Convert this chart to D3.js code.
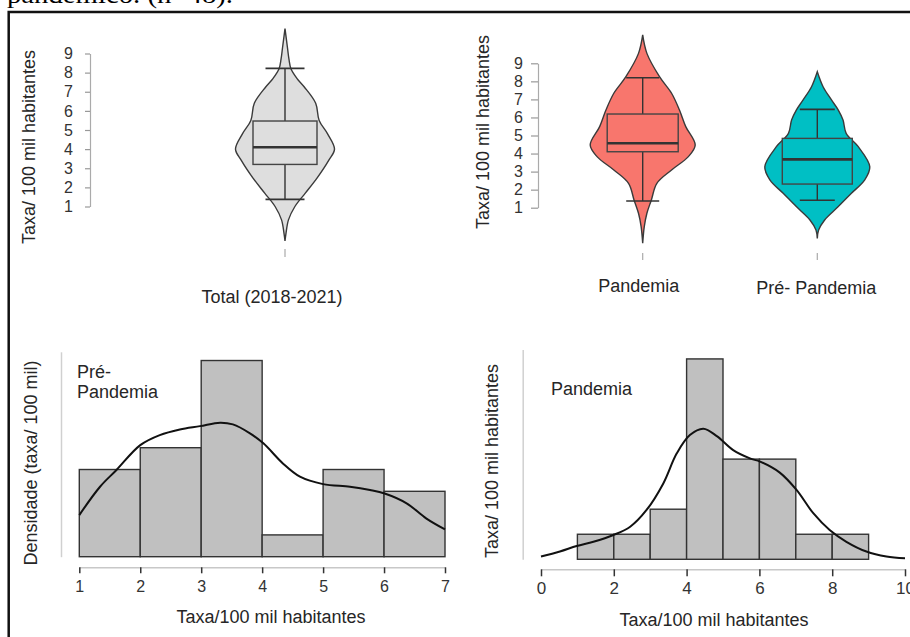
<!DOCTYPE html>
<html><head><meta charset="utf-8">
<script src="https://cdn.jsdelivr.net/npm/d3@7"></script>
<style>
body{margin:0;background:#fff;}
svg{display:block;font-family:"Liberation Sans",Arial,sans-serif;}
</style></head><body>
<svg id="c" width="910" height="637"></svg>
<script>
// ---------- DATA ----------
const captionText = "pandêmico. (n=48).";
const yTickValues = [1,2,3,4,5,6,7,8,9];

// Violin categories
const totalCategory = ["Total (2018-2021)"];
const periodCategories = ["Pandemia", "Pré- Pandemia"];

// Box statistics [lowerWhisker, q1, median, q3, upperWhisker]
const totalBox = [1.37, 3.2, 4.1, 5.47, 8.22];
const pandemiaBox = [1.37, 4.1, 4.57, 6.19, 8.2];
const prePandemiaBox = [1.41, 2.31, 3.68, 4.84, 6.45];

// Violin density profiles (value, relative density)
const totalViolinV = [10.3, 9.3, 8.7, 8.2, 7.7, 7.25, 6.4, 5.5, 4.8, 4.0, 3.4, 2.5, 1.7, 1.0, 0.3, -0.4, -0.8];
const totalViolinD = [0, 0.05, 0.08, 0.12, 0.24, 0.39, 0.62, 0.69, 0.86, 1.0, 0.88, 0.65, 0.41, 0.2, 0.07, 0.02, 0];
const pandemiaViolinV = [10.57, 9.55, 8.26, 7.34, 6.41, 5.49, 4.47, 3.83, 3.09, 2.35, 1.43, 0.69, -0.05, -0.97];
const pandemiaViolinD = [0, 0.08, 0.32, 0.55, 0.70, 0.82, 1.0, 0.87, 0.55, 0.27, 0.165, 0.08, 0.03, 0];
const preViolinV = [8.53, 7.7, 6.97, 6.41, 5.86, 5.12, 4.38, 3.27, 2.53, 1.8, 1.06, 0.32, -0.24, -0.70];
const preViolinD = [0, 0.11, 0.27, 0.40, 0.49, 0.55, 0.78, 1.0, 0.90, 0.65, 0.40, 0.14, 0.025, 0];

// Histograms (bin edges and counts)
const preEdges = [1,2,3,4,5,6,7];
const preCounts = [4,5,9,1,4,3];
const preTicks = [1,2,3,4,5,6,7];
const preCurveX = [1.0,1.34,1.61,2.0,2.32,2.65,2.98,3.31,3.52,3.8,4.02,4.34,4.62,5.0,5.44,5.77,6.01,6.37,6.69,7.0];
const preCurveY = [1.91,3.21,3.98,5.12,5.58,5.84,5.99,6.15,6.07,5.66,5.2,4.28,3.67,3.33,3.21,3.06,2.9,2.45,1.76,1.25];

const pandEdges = [1,2,3,4,5,6,7,8,9];
const pandCounts = [1,1,2,8,4,4,1,1];
const pandTicks = [0,2,4,6,8,10];
const pandCurveX = [0,0.52,0.98,1.44,1.99,2.45,2.9,3.36,3.73,4.09,4.46,4.83,5.28,5.74,6.02,6.56,7.02,7.48,7.93,8.39,8.94,9.49,10];
const pandCurveY = [0.11,0.31,0.53,0.70,0.97,1.3,1.97,3.03,4.23,4.96,5.21,4.92,4.36,4.03,3.9,3.46,2.77,1.84,1.17,0.70,0.31,0.11,0.04];

// ---------- DRAW ----------
const svg = d3.select("#c");
svg.append("rect").attr("width",910).attr("height",637).attr("fill","#fff");

svg.append("text").attr("x",7).attr("y",3)
  .attr("font-family","'Liberation Serif','Times New Roman',serif")
  .attr("font-size",26).attr("textLength",226).attr("lengthAdjust","spacingAndGlyphs")
  .attr("fill","#000").text(captionText);

svg.append("path").attr("d","M8.7,637 V12 H910").attr("fill","none")
  .attr("stroke","#111").attr("stroke-width",2.5);

const textCol = "#262626";

function rotLabel(x, y, txt){
  svg.append("text").attr("transform",`translate(${x},${y}) rotate(-90)`)
    .attr("text-anchor","middle").attr("dy","0.35em").attr("font-size",18)
    .attr("fill",textCol).text(txt);
}
function label(x, y, txt, anchor){
  svg.append("text").attr("x",x).attr("y",y).attr("text-anchor",anchor||"middle")
    .attr("dy","0.35em").attr("font-size",18).attr("fill",textCol).text(txt);
}

function violin(cx, yS, wS, vals, dens, box, fill, boxHW, capHW){
  const g = svg.append("g");
  const pts = vals.map((v,i)=>({v:v, d:dens[i]}));
  const area = d3.area().y(p=>yS(p.v)).x0(p=>cx - wS(p.d)).x1(p=>cx + wS(p.d))
    .curve(d3.curveCatmullRom.alpha(0.5));
  g.append("path").attr("d",area(pts)).attr("fill",fill).attr("stroke","#3a3a3a").attr("stroke-width",1.4);
  const [lo,q1,med,q3,hi] = box;
  const st = "#333";
  g.append("line").attr("x1",cx).attr("x2",cx).attr("y1",yS(hi)).attr("y2",yS(q3)).attr("stroke",st).attr("stroke-width",1.4);
  g.append("line").attr("x1",cx).attr("x2",cx).attr("y1",yS(q1)).attr("y2",yS(lo)).attr("stroke",st).attr("stroke-width",1.4);
  [hi,lo].forEach(v=>g.append("line").attr("x1",cx-capHW).attr("x2",cx+capHW).attr("y1",yS(v)).attr("y2",yS(v)).attr("stroke",st).attr("stroke-width",1.6));
  g.append("rect").attr("x",cx-boxHW).attr("width",2*boxHW).attr("y",yS(q3)).attr("height",yS(q1)-yS(q3))
    .attr("fill",fill).attr("stroke","#444").attr("stroke-width",1.4);
  g.append("line").attr("x1",cx-boxHW).attr("x2",cx+boxHW).attr("y1",yS(med)).attr("y2",yS(med)).attr("stroke","#333").attr("stroke-width",2.6);
}

function vAxis(x, yS, pad, size, fs){
  const g = svg.append("g").attr("transform",`translate(${x},0)`)
    .call(d3.axisLeft(yS).tickValues(yTickValues).tickSize(size).tickSizeOuter(0).tickPadding(pad).tickFormat(d3.format("d")));
  g.attr("font-size",fs);
  g.select(".domain").attr("stroke","#aaa").attr("stroke-width",1.2);
  g.selectAll(".tick line").attr("stroke","#999").attr("stroke-width",1.2);
  g.selectAll(".tick text").style("font-size",fs+"px").attr("fill","#333").attr("font-family","'Liberation Sans',Arial,sans-serif");
}

// ----- Top-left: total violin -----
const yTL = d3.scaleLinear().domain([1,9]).range([206.5,53.5]);
const xTL = d3.scalePoint().domain(totalCategory).range([285,285]);
const wTL = d3.scaleLinear().domain([0,1]).range([0,49.5]);
vAxis(90, yTL, 12, 5, 16);
violin(xTL(totalCategory[0]), yTL, wTL, totalViolinV, totalViolinD, totalBox, "#dedede", 32, 19.5);
svg.append("line").attr("x1",xTL(totalCategory[0])).attr("x2",xTL(totalCategory[0])).attr("y1",249).attr("y2",257).attr("stroke","#aaa").attr("stroke-width",1.2);
rotLabel(29, 147, "Taxa/ 100 mil habitantes");
label(xTL(totalCategory[0]) - 13, 297, totalCategory[0]);

// ----- Top-right: period violins -----
const yTR = d3.scaleLinear().domain([1,9]).range([207.7,63.3]);
const xTR = d3.scalePoint().domain(periodCategories).range([642.7,817.3]);
const wTR = d3.scaleLinear().domain([0,1]).range([0,52.5]);
vAxis(538, yTR, 8, 7, 16);
violin(xTR("Pandemia"), yTR, wTR, pandemiaViolinV, pandemiaViolinD, pandemiaBox, "#F8766D", 35.5, 16.5);
violin(xTR("Pré- Pandemia"), yTR, wTR, preViolinV, preViolinD, prePandemiaBox, "#00BFC4", 35, 17.5);
periodCategories.forEach(c=>{
  svg.append("line").attr("x1",xTR(c)).attr("x2",xTR(c)).attr("y1",253).attr("y2",260).attr("stroke","#aaa").attr("stroke-width",1.2);
});
rotLabel(483, 132, "Taxa/ 100 mil habitantes");
label(xTR("Pandemia") - 4, 286, "Pandemia");
label(xTR("Pré- Pandemia") - 1, 288, "Pré- Pandemia");

// ----- Histograms -----
function hist(xS, yS, edges, counts, cx, cy, ticks, axisY, tickLen, pad, fs, yAxisX){
  const g = svg.append("g");
  const ya = g.append("g").attr("transform",`translate(${yAxisX},0)`)
    .call(d3.axisLeft(yS).tickValues([]).tickSizeOuter(0));
  ya.select(".domain").attr("stroke","#d0d0d0").attr("stroke-width",1.5);
  counts.forEach((c,i)=>{
    g.append("rect").attr("x",xS(edges[i])).attr("width",xS(edges[i+1])-xS(edges[i]))
      .attr("y",yS(c)).attr("height",yS(0)-yS(c))
      .attr("fill","#c0c0c0").attr("stroke","#333").attr("stroke-width",1.4);
  });
  const line = d3.line().x((d,i)=>xS(cx[i])).y(d=>yS(d)).curve(d3.curveCatmullRom.alpha(0.5));
  g.append("path").attr("d",line(cy)).attr("fill","none").attr("stroke","#111").attr("stroke-width",2);
  const xa = g.append("g").attr("transform",`translate(0,${axisY})`)
    .call(d3.axisBottom(xS).tickValues(ticks).tickSize(tickLen).tickSizeOuter(0).tickPadding(pad).tickFormat(d3.format("d")));
  xa.attr("font-size",fs);
  xa.select(".domain").attr("stroke","#c8c8c8").attr("stroke-width",1.5);
  xa.selectAll(".tick line").attr("stroke","#333").attr("stroke-width",1.5);
  xa.selectAll(".tick text").style("font-size",fs+"px").attr("fill","#333").attr("font-family","'Liberation Sans',Arial,sans-serif");
}

const xBL = d3.scaleLinear().domain([1,7]).range([79.3,445]);
const yBL = d3.scaleLinear().domain([0,9.4]).range([556.7,351.8]);
hist(xBL, yBL, preEdges, preCounts, preCurveX, preCurveY, preTicks, 567.3, 6, 7, 16, 61);
rotLabel(31, 463, "Densidade (taxa/ 100 mil)");
label(271, 617, "Taxa/100 mil habitantes");
label(77, 372, "Pré-", "start");
label(77, 392, "Pandemia", "start");

const xBR = d3.scaleLinear().domain([0,10]).range([541,905]);
const yBR = d3.scaleLinear().domain([0,8.38]).range([559.3,349.4]);
hist(xBR, yBR, pandEdges, pandCounts, pandCurveX, pandCurveY, pandTicks, 569.3, 7, 6, 17, 522.7);
rotLabel(492, 461, "Taxa/ 100 mil habitantes");
label(714, 620, "Taxa/100 mil habitantes");
label(551, 389, "Pandemia", "start");
</script>
</body></html>
